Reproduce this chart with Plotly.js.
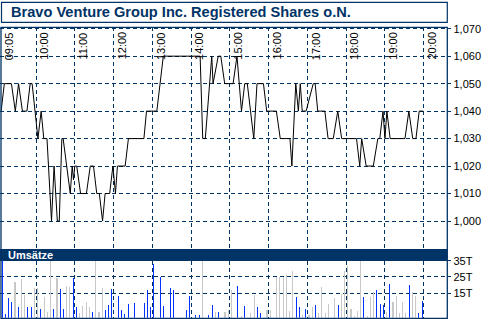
<!DOCTYPE html>
<html><head><meta charset="utf-8">
<script src="https://cdn.plot.ly/plotly-3.0.1.min.js"></script>
<style>html,body{margin:0;padding:0;background:#fff}#chart{width:490px;height:319px}</style>
</head><body><div id="chart"></div>
<script>
const TITLE = "Bravo Venture Group Inc. Registered Shares o.N.";
const PANEL_LABEL = "Umsätze";
const DAY = "2000-01-01 ";

const priceTimes = ["09:06","09:11","09:22","09:28","09:33","09:39","09:46","09:51","09:54","10:03","10:08","10:12","10:17",
"10:24","10:28","10:33","10:36","10:40","10:42","10:53","10:56","10:58","11:00","11:03","11:09","11:18","11:24","11:29",
"11:34","11:38","11:43","11:47","11:54","11:59","12:03","12:06","12:18","12:23","12:47","12:51","13:07","13:17","14:14",
"14:18","14:22","14:32","14:34","14:42","14:46","14:52","15:05","15:11","15:18","15:23","15:27","15:37","15:42","15:52",
"15:57","16:12","16:18","16:33","16:36","16:42","16:46","16:49","16:52","16:58","17:09","17:12","17:16","17:27","17:32",
"17:40","17:47","17:53","18:16","18:21","18:24","18:31","18:42","18:49","18:52","18:57","19:00","19:03","19:08","19:31",
"19:37","19:43","19:48","19:53","19:59"];
const priceValues = [1.04,1.05,1.05,1.04,1.05,1.04,1.04,1.05,1.05,1.03,1.04,1.03,1.03,
1.00,1.02,1.00,1.00,1.03,1.03,1.01,1.02,1.015,1.02,1.02,1.01,1.01,1.02,1.02,
1.01,1.01,1.00,1.01,1.01,1.02,1.01,1.02,1.02,1.03,1.03,1.04,1.04,1.06,1.06,
1.03,1.03,1.06,1.05,1.06,1.06,1.05,1.05,1.06,1.04,1.05,1.05,1.03,1.05,1.05,
1.04,1.04,1.03,1.03,1.02,1.05,1.04,1.05,1.04,1.04,1.05,1.05,1.04,1.04,1.03,
1.03,1.04,1.03,1.03,1.02,1.03,1.02,1.02,1.03,1.03,1.04,1.03,1.04,1.03,1.03,
1.04,1.03,1.03,1.04,1.04];

const blueVolTimes = ["09:05","09:10","09:15","09:20","09:30","09:45","09:50","10:05","10:25","10:35","10:40","10:55","11:00",
"11:25","11:45","11:50","11:55","12:05","12:10","12:15","12:20","12:30","12:45","12:50","12:55","13:00","13:10","13:15",
"13:25","13:30","13:50","13:55","14:05","14:10","14:25","14:30","14:40","15:10","15:20","15:40","15:45","16:40","16:45",
"16:55","17:10","17:45","18:25","18:45","18:50","18:55","19:05","19:35","19:50","19:55"];
const blueVolValues = [37,2.3,12.3,9.8,6.7,6.7,6.7,5.5,5.3,17.6,5.3,24.5,6.6,
3.7,4.7,7.8,17.6,13.3,4.7,2.1,8.2,9.2,9.2,17,6.7,33,24.7,7.2,
18.1,17,4.7,13.3,1.7,1.7,1.7,7.5,3.7,19.6,7,6.7,3.1,12.9,6.7,
5.3,7.8,7.8,12.9,17,8.4,7.8,20.7,20,3.1,10.2];

const grayVolTimes = ["09:25","09:35","09:40","09:55","10:00","10:10","10:15","10:20","10:30","10:45","10:50","11:05","11:10",
"11:15","11:20","11:30","11:35","11:40","14:15","14:35","14:50","14:55","15:00","15:15","15:30","15:35","15:55","16:00",
"16:10","16:15","16:20","16:25","16:30","16:35","16:50","17:00","17:05","17:15","17:20","17:25","17:30","17:40","17:50",
"17:55","18:00","18:05","18:10","18:15","18:20","18:30","18:35","18:40","19:00","19:10","19:15","19:20","19:25","19:30",
"19:40","19:45"];
const grayVolValues = [21.9,23.7,13.9,18.2,18.4,12.9,3.7,37,24.5,19.6,19,2.9,7.2,
9.8,6.6,37,3.7,18.4,37,3.5,3.3,4.7,17,0.8,3,14,5,5,
24.8,24.8,24.8,26.8,4.3,28.8,1.7,1.7,6.7,3.1,19,2.7,8.6,12.3,14.8,
28.8,31.8,5.3,1,4.1,37,1,12.9,16,3.7,9.8,13.5,3.1,9.8,3.1,
15.6,13.3];

const priceTicks = [1.00,1.01,1.02,1.03,1.04,1.05,1.06,1.07];
const priceTickLabels = ["1,000","1,010","1,020","1,030","1,040","1,050","1,060","1,070"];
const volTicks = [15,25,35];
const volTickLabels = ["15T","25T","35T"];
const timeLabels = ["09:05","10:00","11:00","12:00","13:00","14:00","15:00","16:00","17:00","18:00","19:00","20:00"];
const gridHours = ["10:00","11:00","12:00","13:00","14:00","15:00","16:00","17:00","18:00","19:00","20:00"];

const W = 490, H = 319;
const px = x => x / W;
const py = y => 1 - y / H;
const NAVY = "#003366";
const d = t => DAY + t;
const FONT = "Liberation Sans, Arial, sans-serif";

const traces = [
  {type:"scatter", mode:"lines", x:priceTimes.map(d), y:priceValues, xaxis:"x", yaxis:"y",
   line:{color:"#000", width:1}, hoverinfo:"skip"},
  {type:"bar", x:grayVolTimes.map(d), y:grayVolValues, xaxis:"x", yaxis:"y2",
   xperiod:300000, xperiodalignment:"middle", width:100000,
   marker:{color:"#c8c8c8", line:{width:0}}, hoverinfo:"skip"},
  {type:"bar", x:blueVolTimes.map(d), y:blueVolValues, xaxis:"x", yaxis:"y2",
   xperiod:300000, xperiodalignment:"middle", width:100000,
   marker:{color:"#0033ff", line:{width:0}}, hoverinfo:"skip"}
];

const annotations = timeLabels.map(t => ({
  x: d(t), xref:"x", y: py(45.8), yref:"paper", text:t, showarrow:false,
  textangle:-90, xanchor:"center", yanchor:"middle", xshift:8,
  font:{family:FONT, size:11, color:"#000"}
}));
annotations.push({x:px(9), xref:"paper", y:py(12.3), yref:"paper", text:TITLE, showarrow:false,
  xanchor:"left", yanchor:"middle", font:{family:FONT, size:14.6, color:NAVY, weight:"bold"}});
annotations.push({x:px(6), xref:"paper", y:py(255), yref:"paper", text:PANEL_LABEL, showarrow:false,
  xanchor:"left", yanchor:"middle", font:{family:FONT, size:11, color:"#fff", weight:"bold"}});

const layout = {
  width:W, height:H, margin:{l:0,r:0,t:0,b:0},
  paper_bgcolor:"#fff", plot_bgcolor:"#fff", showlegend:false, hovermode:false,
  barmode:"overlay", bargap:0,
  xaxis:{type:"date", domain:[px(0.46), px(447.3)], range:[d("09:05"), d("20:36:30")],
    tickmode:"array", tickvals:gridHours.map(d), showticklabels:false, ticks:"",
    showgrid:true, gridcolor:NAVY, griddash:"4px,3px", gridwidth:1, zeroline:false, showline:false, anchor:"y2"},
  yaxis:{domain:[py(249), py(27.3)], range:[0.98981, 1.07051], side:"right", anchor:"x",
    tickmode:"array", tickvals:priceTicks, ticktext:priceTickLabels,
    ticks:"outside", ticklen:3, tickcolor:NAVY, tickwidth:1,
    tickfont:{family:FONT, size:11, color:"#000"},
    showgrid:true, gridcolor:NAVY, griddash:"4px,3px", gridwidth:1, zeroline:false, showline:false},
  yaxis2:{domain:[py(317.7), py(260.5)], range:[0, 35.11], side:"right", anchor:"x",
    tickmode:"array", tickvals:volTicks, ticktext:volTickLabels,
    ticks:"outside", ticklen:3, tickcolor:NAVY, tickwidth:1,
    tickfont:{family:FONT, size:11, color:"#000"},
    showgrid:true, gridcolor:NAVY, griddash:"4px,3px", gridwidth:1, zeroline:false, showline:false},
  shapes:[
    {type:"rect", xref:"paper", yref:"paper", x0:px(0), x1:px(447.3), y0:py(261), y1:py(249),
     fillcolor:NAVY, line:{width:0}, layer:"above"},
    {type:"rect", xref:"paper", yref:"paper", x0:px(1), x1:px(447.3), y0:py(318.3), y1:py(27.3),
     fillcolor:"rgba(0,0,0,0)", line:{color:NAVY, width:1.3}, layer:"above"},
    {type:"rect", xref:"paper", yref:"paper", x0:px(1.5), x1:px(447.3), y0:py(22.3), y1:py(2.3),
     fillcolor:"#fff", line:{color:NAVY, width:1.2}, layer:"above"}
  ],
  annotations:annotations
};

Plotly.newPlot("chart", traces, layout, {staticPlot:true, displayModeBar:false});
</script></body></html>
